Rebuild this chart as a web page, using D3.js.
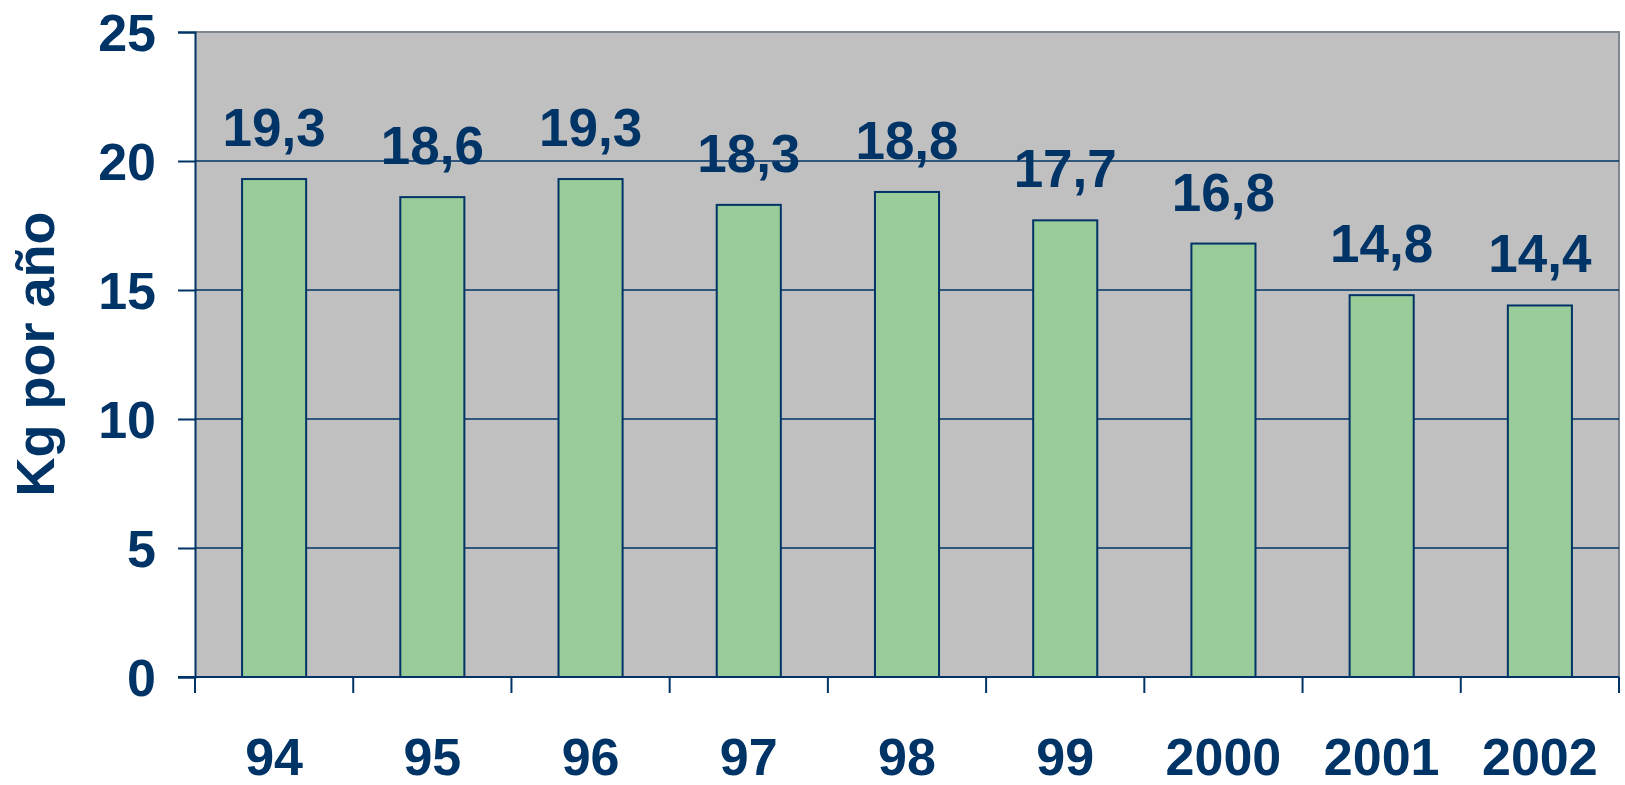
<!DOCTYPE html>
<html>
<head>
<meta charset="utf-8">
<script src="https://cdn.jsdelivr.net/npm/d3@7"></script>
<style>
  html, body { margin: 0; padding: 0; background: #ffffff; }
  svg { display: block; }
  text { font-family: "Liberation Sans", Arial, sans-serif; font-weight: bold; fill: #003366; }
</style>
</head>
<body>
<svg id="chart" width="1625" height="785"></svg>
<script>
const categories = ["94", "95", "96", "97", "98", "99", "2000", "2001", "2002"];
const values = [19.3, 18.6, 19.3, 18.3, 18.8, 17.7, 16.8, 14.8, 14.4];
const valueLabels = ["19,3", "18,6", "19,3", "18,3", "18,8", "17,7", "16,8", "14,8", "14,4"];
const yTicks = [0, 5, 10, 15, 20, 25];
const yTitle = "Kg por año";

const navy = "#003366";
const svg = d3.select("#chart");
const plotL = 195, plotR = 1619, plotT = 32, plotB = 677;

const x = d3.scaleBand().domain(categories).range([plotL, plotR]).paddingInner(0.595).paddingOuter(0.2975);
const y = d3.scaleLinear().domain([0, 25]).range([plotB, plotT]);

// plot background
svg.append("rect").attr("x", plotL).attr("y", plotT).attr("width", plotR - plotL).attr("height", plotB - plotT)
  .attr("fill", "#c0c0c0");
// top & right gray border
svg.append("path").attr("d", `M${plotL},${plotT}H${plotR}V${plotB}`).attr("fill", "none")
  .attr("stroke", "#7f8790").attr("stroke-width", 2);

// gridlines
svg.append("g").selectAll("line").data(yTicks.filter(t => t > 0 && t < 25)).join("line")
  .attr("x1", plotL).attr("x2", plotR).attr("y1", d => y(d)).attr("y2", d => y(d))
  .attr("stroke", navy).attr("stroke-width", 1.5);

// bars
svg.append("g").selectAll("rect").data(values).join("rect")
  .attr("x", (d, i) => x(categories[i]))
  .attr("y", d => y(d))
  .attr("width", x.bandwidth())
  .attr("height", d => y(0) - y(d))
  .attr("fill", "#99cc99").attr("stroke", navy).attr("stroke-width", 2);

// value labels
svg.append("g").selectAll("text").data(values).join("text")
  .attr("x", (d, i) => x(categories[i]) + x.bandwidth() / 2)
  .attr("y", d => y(d) - 33)
  .attr("text-anchor", "middle").attr("font-size", 53)
  .text((d, i) => valueLabels[i]);

// y axis
const yAxis = svg.append("g").attr("transform", `translate(${plotL},0)`)
  .call(d3.axisLeft(y).tickValues(yTicks).tickSize(17).tickPadding(22).tickFormat(d3.format("d")));
yAxis.select(".domain").attr("stroke", navy).attr("stroke-width", 2);
yAxis.selectAll(".tick line").attr("stroke", navy).attr("stroke-width", 2);
yAxis.selectAll(".tick text").attr("font-size", 52).attr("fill", navy)
  .attr("font-family", "Liberation Sans, Arial, sans-serif").attr("font-weight", "bold")
  .attr("dy", "0.36em");

// x axis
const xBoundaries = d3.scaleLinear().domain([0, categories.length]).range([plotL, plotR]);
const xAxisG = svg.append("g");
xAxisG.append("line").attr("x1", plotL - 17).attr("x2", plotR).attr("y1", plotB).attr("y2", plotB)
  .attr("stroke", navy).attr("stroke-width", 2);
xAxisG.selectAll(".xt").data(d3.range(categories.length + 1)).join("line").attr("class", "xt")
  .attr("x1", d => xBoundaries(d)).attr("x2", d => xBoundaries(d))
  .attr("y1", plotB).attr("y2", plotB + 16)
  .attr("stroke", navy).attr("stroke-width", 2);
xAxisG.selectAll("text").data(categories).join("text")
  .attr("x", d => x(d) + x.bandwidth() / 2)
  .attr("y", 775)
  .attr("text-anchor", "middle").attr("font-size", 52)
  .text(d => d);

// y title
svg.append("text")
  .attr("transform", "translate(54,354) rotate(-90)")
  .attr("text-anchor", "middle").attr("font-size", 54)
  .text(yTitle);
</script>
</body>
</html>
